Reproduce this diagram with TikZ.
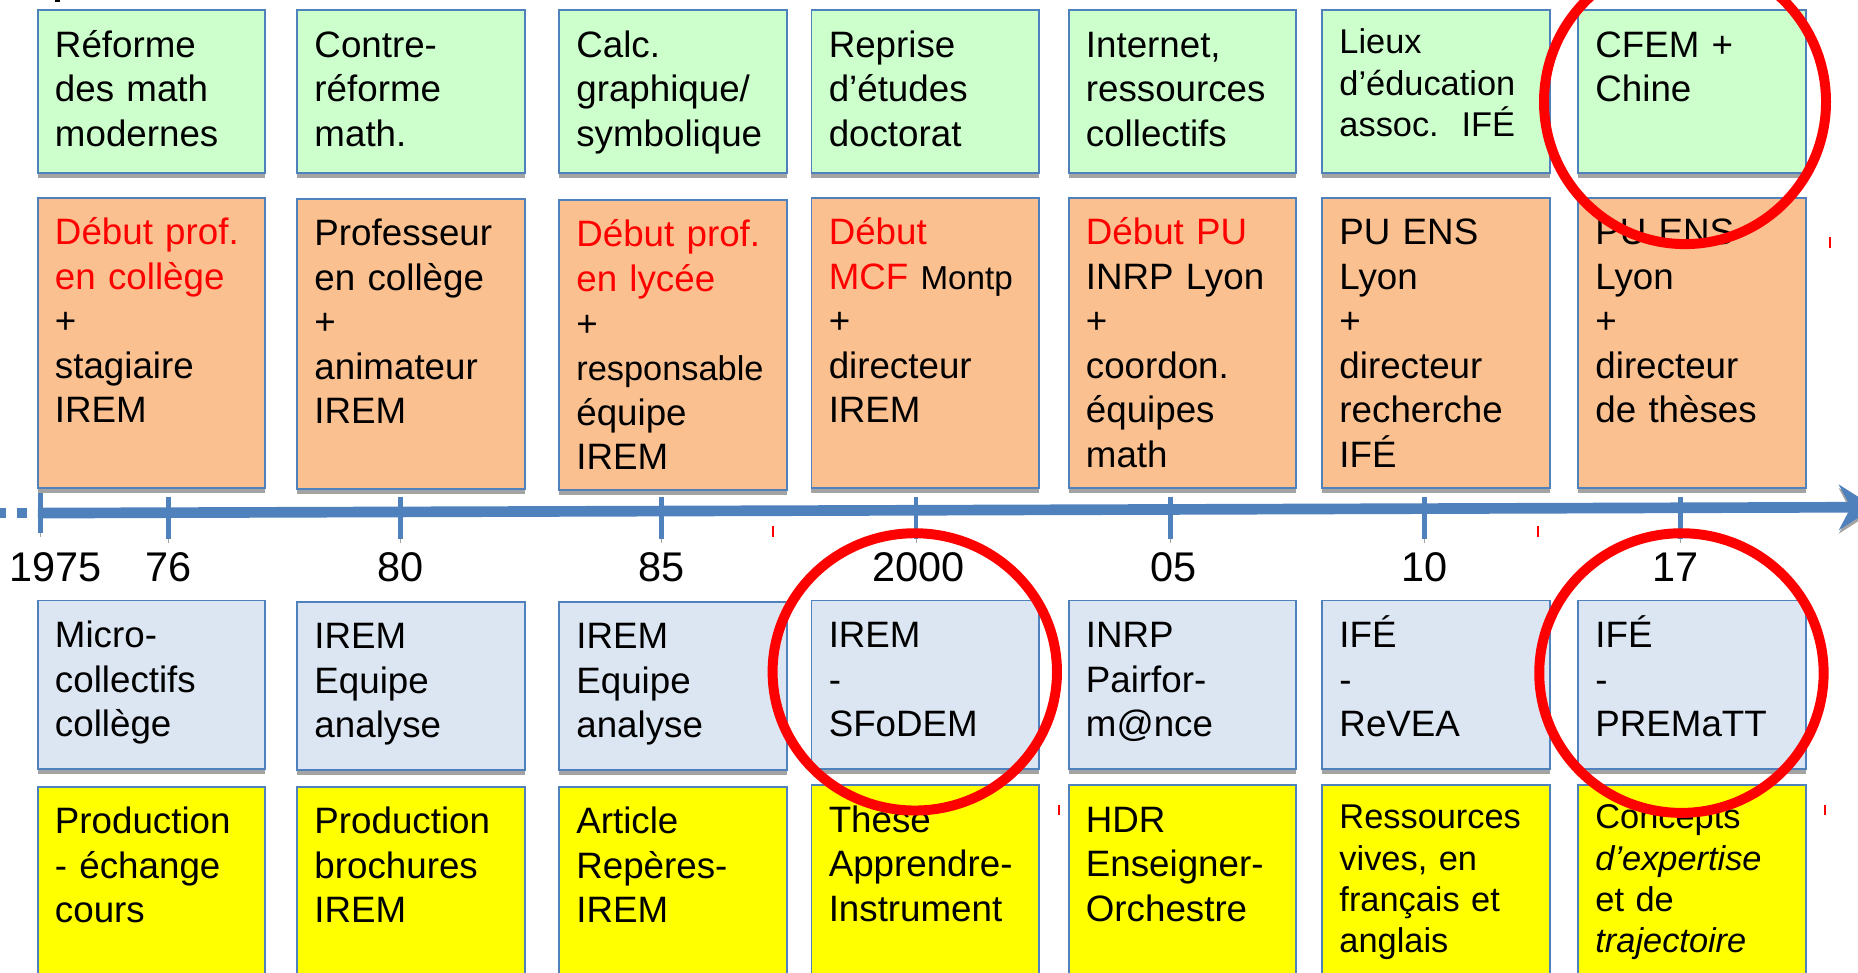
\documentclass[tikz,border=0pt]{standalone}
\usepackage{fontspec}
\setmainfont{Liberation Sans}
\usetikzlibrary{shadows, arrows.meta}
\definecolor{edgeblue}{HTML}{4F81BD}
\definecolor{cardgreen}{HTML}{CCFFCC}
\definecolor{cardorange}{HTML}{FAC090}
\definecolor{cardblue}{HTML}{DCE6F2}
\definecolor{cardyellow}{HTML}{FFFF00}
\definecolor{shade}{HTML}{A3A3A3}

\begin{document}
\begin{tikzpicture}[x = 0.5pt, y = -0.5pt,
  card/.style = {draw = edgeblue, line width = 0.8pt, anchor = north west, inner sep = 0pt, minimum width = 96pt,
    drop shadow = {shadow xshift = 0pt, shadow yshift = -2pt, fill = shade, opacity = 1}},
  gcard/.style = {card, fill = cardgreen, minimum height = 68.5pt},
  ocard/.style = {card, fill = cardorange, minimum height = 122.5pt},
  bcard/.style = {card, fill = cardblue, minimum height = 71pt},
  ycard/.style = {card, fill = cardyellow, minimum height = 90pt},
  txtbase/.style = {anchor = north west, inner sep = 0pt, text width = 90pt, align = left},
  txt/.style = {txtbase, font = \fontsize{15.5}{18.8}\selectfont, execute at begin node = \rule{0pt}{14.5pt}},
  stxt/.style = {txtbase, font = \fontsize{14.5}{17.4}\selectfont, execute at begin node = \rule{0pt}{13pt}},
  year/.style = {anchor = base, inner sep = 0pt, font = \fontsize{17.5}{21}\selectfont},
  axisline/.style = {line width = 4.5pt, edgeblue, preaction = {draw = shade, transform canvas = {yshift = -1.5pt}}},
  tick/.style = {line width = 2pt, edgeblue, preaction = {draw = shade, transform canvas = {yshift = -1.5pt}}},
  ring/.style = {draw = red, line width = 4.2pt, preaction = {draw = shade, transform canvas = {shift = {(1pt,-1.2pt)}}}}]
\useasboundingbox (0,0) rectangle (1568,821);
\clip (0,0) rectangle (1568,821);

\fill (46,0) rectangle (51,2);

\node[gcard] (ctx1) at (31,8) {};
\node[gcard] (ctx2) at (250,8) {};
\node[gcard] (ctx3) at (471,8) {};
\node[gcard] (ctx4) at (684,8) {};
\node[gcard] (ctx5) at (901,8) {};
\node[gcard] (ctx6) at (1115,8) {};
\node[gcard] (ctx7) at (1331,8) {};
\node[txt] (ctx1t) at ([shift = {(15,11)}]ctx1.north west) {Réforme\\des math\\modernes};
\node[txt] (ctx2t) at ([shift = {(15,11)}]ctx2.north west) {Contre-\\réforme\\math.};
\node[txt] (ctx3t) at ([shift = {(15,11)}]ctx3.north west) {Calc.\\graphique/\\symbolique};
\node[txt] (ctx4t) at ([shift = {(15,11)}]ctx4.north west) {Reprise\\d’études\\doctorat};
\node[txt] (ctx5t) at ([shift = {(15,11)}]ctx5.north west) {Internet,\\ressources\\collectifs};
\node[stxt] (ctx6t) at ([shift = {(15,11)}]ctx6.north west) {Lieux\\d’éducation\\assoc.\ \ IFÉ};
\node[txt] (ctx7t) at ([shift = {(15,11)}]ctx7.north west) {CFEM +\\Chine};

\node[ocard] (pos1) at (31,166) {};
\node[ocard] (pos2) at (250,167) {};
\node[ocard] (pos3) at (471,168) {};
\node[ocard] (pos4) at (684,166) {};
\node[ocard] (pos5) at (901,166) {};
\node[ocard] (pos6) at (1115,166) {};
\node[ocard] (pos7) at (1331,166) {};
\node[txt] (pos1t) at ([shift = {(15,11)}]pos1.north west) {\textcolor{red}{Début prof.}\\\textcolor{red}{en collège}\\+\\stagiaire\\IREM};
\node[txt] (pos2t) at ([shift = {(15,11)}]pos2.north west) {Professeur\\en collège\\+\\animateur\\IREM};
\node[txt] (pos3t) at ([shift = {(15,11)}]pos3.north west) {\textcolor{red}{Début prof.}\\\textcolor{red}{en lycée}\\+\\{\fontsize{14.5}{18.8}\selectfont responsable}\\équipe\\IREM};
\node[txt] (pos4t) at ([shift = {(15,11)}]pos4.north west) {\textcolor{red}{Début}\\\textcolor{red}{MCF} {\fontsize{14}{18.8}\selectfont Montp}\\+\\directeur\\IREM};
\node[txt] (pos5t) at ([shift = {(15,11)}]pos5.north west) {\textcolor{red}{Début PU}\\INRP Lyon\\+\\coordon.\\équipes\\math};
\node[txt] (pos6t) at ([shift = {(15,11)}]pos6.north west) {PU ENS\\Lyon\\+\\directeur\\recherche\\IFÉ};
\node[txt] (pos7t) at ([shift = {(15,11)}]pos7.north west) {PU ENS\\Lyon\\+\\directeur\\de thèses};

\draw[axisline] (0,433) -- (5,433) (14,433) -- (23,433);
\coordinate (axisL) at (32,433);
\coordinate (axisR) at (1582,428);
\draw[axisline, -{Stealth[length = 15pt, width = 19pt, inset = 5pt]}] (axisL) -- (axisR);
\draw[tick] (34,416) -- (34,450);
\draw[tick] (142,419) -- (142,455);
\draw[tick] (338,419) -- (338,455);
\draw[tick] (558,419) -- (558,455);
\draw[tick] (773,419) -- (773,455);
\draw[tick] (988,419) -- (988,455);
\draw[tick] (1202,419) -- (1202,455);
\draw[tick] (1418,419) -- (1418,455);

\node[year] (yr1975) at (47,491) {1975};
\node[year] (yr1976) at (142,491) {76};
\node[year] (yr1980) at (338,491) {80};
\node[year] (yr1985) at (558,491) {85};
\node[year] (yr2000) at (775,491) {2000};
\node[year] (yr2005) at (990,491) {05};
\node[year] (yr2010) at (1202,491) {10};
\node[year] (yr2017) at (1414,491) {17};

\node[bcard] (grp1) at (31,506) {};
\node[bcard] (grp2) at (250,507) {};
\node[bcard] (grp3) at (471,507) {};
\node[bcard] (grp4) at (684,506) {};
\node[bcard] (grp5) at (901,506) {};
\node[bcard] (grp6) at (1115,506) {};
\node[bcard] (grp7) at (1331,506) {};
\node[txt] (grp1t) at ([shift = {(15,11)}]grp1.north west) {Micro-\\collectifs\\collège};
\node[txt] (grp2t) at ([shift = {(15,11)}]grp2.north west) {IREM\\Equipe\\analyse};
\node[txt] (grp3t) at ([shift = {(15,11)}]grp3.north west) {IREM\\Equipe\\analyse};
\node[txt] (grp4t) at ([shift = {(15,11)}]grp4.north west) {IREM\\-\\SFoDEM};
\node[txt] (grp5t) at ([shift = {(15,11)}]grp5.north west) {INRP\\Pairfor-\\m@nce};
\node[txt] (grp6t) at ([shift = {(15,11)}]grp6.north west) {IFÉ\\-\\ReVEA};
\node[txt] (grp7t) at ([shift = {(15,11)}]grp7.north west) {IFÉ\\-\\PREMaTT};

\node[ycard] (prd1) at (31,663) {};
\node[ycard] (prd2) at (250,663) {};
\node[ycard] (prd3) at (471,663) {};
\node[ycard] (prd4) at (684,662) {};
\node[ycard] (prd5) at (901,662) {};
\node[ycard] (prd6) at (1115,662) {};
\node[ycard] (prd7) at (1331,662) {};
\node[txt] (prd1t) at ([shift = {(15,11)}]prd1.north west) {Production\\- échange\\cours};
\node[txt] (prd2t) at ([shift = {(15,11)}]prd2.north west) {Production\\brochures\\IREM};
\node[txt] (prd3t) at ([shift = {(15,11)}]prd3.north west) {Article\\Repères-\\IREM};
\node[txt] (prd4t) at ([shift = {(15,11)}]prd4.north west) {These\\Apprendre-\\Instrument};
\node[txt] (prd5t) at ([shift = {(15,11)}]prd5.north west) {HDR\\Enseigner-\\Orchestre};
\node[stxt] (prd6t) at ([shift = {(15,11)}]prd6.north west) {Ressources\\vives, en\\français et\\anglais};
\node[stxt] (prd7t) at ([shift = {(15,11)}]prd7.north west) {Concepts\\\textit{d’expertise}\\et de\\\textit{trajectoire}};

\draw[ring] (1422,86) ellipse [x radius = 119, y radius = 120];
\draw[ring] (772,567) ellipse [x radius = 120, y radius = 117];
\draw[ring] (1419,568) ellipse [x radius = 120, y radius = 118];
\draw[red, line width = 0.8pt] (652,444) -- (652,453);
\draw[red, line width = 0.8pt] (1298,444) -- (1298,453);
\draw[red, line width = 0.8pt] (894,679) -- (894,688);
\draw[red, line width = 0.8pt] (1540,679) -- (1540,688);
\draw[red, line width = 0.8pt] (1544,200) -- (1544,209);
\end{tikzpicture}
\end{document}
